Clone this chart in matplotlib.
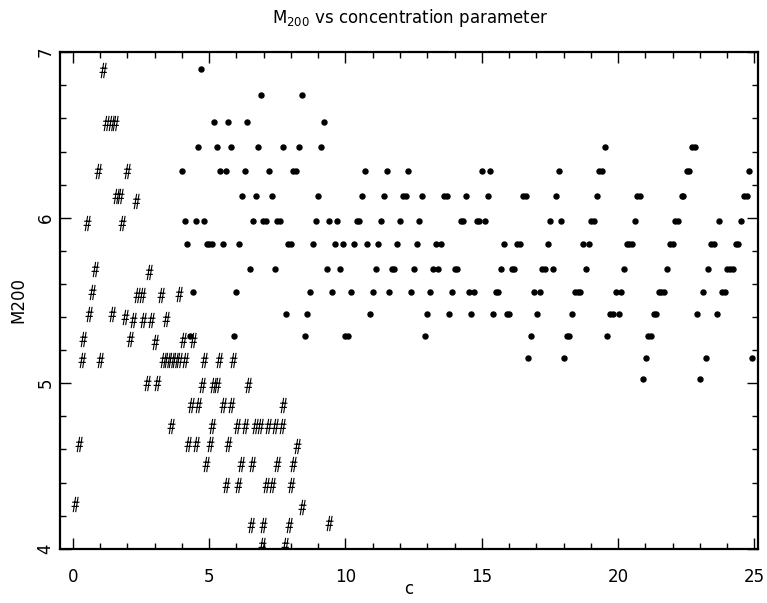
import matplotlib
matplotlib.use("Agg")
import matplotlib.pyplot as plt
from matplotlib.path import Path
from matplotlib.ticker import MultipleLocator

# ---- data: dots (one list of c-values per M200 level) ----
dot_levels = [6.90, 6.74, 6.58, 6.43, 6.28, 6.13, 5.98, 5.84, 5.69, 5.55, 5.42, 5.285, 5.155, 5.024]
dot_c = [
    [4.70],
    [6.90, 8.42],
    [5.19, 5.71, 6.40, 9.20],
    [4.59, 5.30, 5.80, 6.81, 7.71, 8.31, 9.10, 19.52, 22.72, 22.81],
    [4.01, 5.40, 5.61, 6.31, 7.20, 8.09, 8.19, 10.72, 11.51, 12.31, 15.01, 15.31, 17.82, 19.30, 19.39,
     22.51, 22.60, 24.81],
    [6.21, 6.71, 7.31, 9.01, 10.60, 11.41, 12.12, 12.21, 12.81, 13.61, 13.71, 14.41, 15.22, 16.52, 16.61,
     17.71, 19.21, 20.70, 20.80, 22.33, 22.39, 24.63, 24.71],
    [4.11, 4.51, 4.80, 6.60, 6.99, 7.09, 7.49, 7.59, 8.91, 9.41, 9.70, 10.41, 10.50, 11.30, 12.00, 12.71,
     14.23, 14.31, 14.81, 14.91, 15.12, 17.51, 17.92, 19.00, 19.11, 20.60, 22.10, 22.19, 23.71, 24.50],
    [4.20, 4.91, 4.99, 5.10, 5.51, 6.11, 7.91, 7.99, 8.80, 9.61, 9.90, 10.30, 10.80, 11.21, 11.90, 12.61,
     13.31, 13.51, 15.80, 16.30, 16.40, 17.41, 18.71, 18.92, 20.31, 20.41, 20.51, 21.91, 22.01, 23.40,
     23.50, 24.31, 24.41],
    [6.50, 7.41, 9.31, 9.80, 11.11, 11.70, 11.79, 12.52, 13.21, 13.41, 14.01, 14.10, 15.70, 16.10, 16.19,
     17.22, 17.30, 17.61, 18.81, 20.21, 21.80, 23.31, 24.00, 24.10, 24.20],
    [4.40, 6.00, 8.70, 9.51, 10.20, 11.01, 11.61, 12.42, 13.11, 13.91, 14.52, 14.71, 15.51, 15.61, 16.91,
     17.12, 18.42, 18.51, 18.61, 19.92, 20.12, 21.50, 21.59, 21.69, 23.11, 23.82, 23.91],
    [7.81, 8.60, 10.90, 13.00, 13.81, 14.60, 15.41, 15.91, 16.00, 17.01, 18.31, 19.70, 19.80, 20.02,
     21.30, 21.40, 22.90, 23.61],
    [4.31, 5.91, 8.50, 10.00, 10.09, 12.91, 16.80, 18.11, 18.21, 19.60, 21.11, 21.20],
    [16.71, 18.00, 21.01, 23.21, 24.91],
    [20.91, 23.01],
]

# ---- data: hash symbols ----
hash_c = [1.10, 1.22, 1.39, 1.55, 0.92, 2.00, 1.57, 1.74, 2.32, 0.51, 1.81, 0.81, 2.81,
          0.72, 2.36, 2.52, 3.22, 3.91,
          0.61, 1.43, 1.92, 2.20, 2.58, 2.88, 3.42,
          0.39, 2.10, 3.02, 4.03, 4.40,
          0.33, 1.00, 3.29, 3.44, 3.60, 3.75, 3.90, 4.10, 4.81, 5.37, 5.89,
          2.71, 3.10, 4.73, 5.13, 5.28, 6.42,
          4.33, 4.58, 5.52, 5.79, 7.72,
          3.60, 5.10, 6.01, 6.33, 6.69, 6.87, 7.17, 7.42, 7.66,
          0.21, 4.24, 4.52, 5.03, 5.71, 8.24,
          4.90, 6.17, 6.56, 7.48, 8.09,
          5.62, 6.07, 7.08, 7.31, 7.99,
          0.08, 8.42,
          6.52, 6.99, 7.93, 9.40,
          6.93, 7.79]
hash_m = [6.89, 6.57, 6.57, 6.57, 6.28, 6.28, 6.13, 6.13, 6.10, 5.97, 5.97, 5.69, 5.67,
          5.55, 5.535, 5.535, 5.535, 5.54,
          5.42, 5.42, 5.40, 5.38, 5.38, 5.38, 5.39,
          5.27, 5.27, 5.25, 5.26, 5.26,
          5.14, 5.14, 5.14, 5.14, 5.14, 5.14, 5.14, 5.14, 5.14, 5.14, 5.14,
          5.00, 5.00, 4.99, 4.99, 4.99, 4.99,
          4.87, 4.87, 4.87, 4.87, 4.87,
          4.74, 4.74, 4.74, 4.74, 4.74, 4.74, 4.74, 4.74, 4.74,
          4.63, 4.63, 4.63, 4.63, 4.63, 4.62,
          4.51, 4.51, 4.51, 4.51, 4.51,
          4.385, 4.385, 4.385, 4.385, 4.385,
          4.27, 4.25,
          4.145, 4.145, 4.145, 4.155,
          4.02, 4.02]

xs, ys = [], []
for lev, cs in zip(dot_levels, dot_c):
    xs.extend(cs)
    ys.extend([lev] * len(cs))

# slanted hash marker
hv = [(-0.30, -1.0), (0.02, 1.0),
      (0.02, -1.0), (0.34, 1.0),
      (-0.52, -0.25), (0.44, -0.25),
      (-0.44, 0.30), (0.52, 0.30)]
hc = [Path.MOVETO, Path.LINETO] * 4
hash_marker = Path(hv, hc)

fig = plt.figure(figsize=(7.67, 6.03), dpi=100)
ax = fig.add_axes([0.0782, 0.0900, 0.9101, 0.8234])

ax.plot(xs, ys, linestyle='none', marker='o', ms=3.6, color='black', mec='black')
ax.plot(hash_c, hash_m, linestyle='none', marker=hash_marker, ms=11, mfc='none',
        mec='black', mew=0.8)

ax.set_xlim(-0.47, 25.13)
ax.set_ylim(4, 7)
ax.xaxis.set_major_locator(MultipleLocator(5))
ax.xaxis.set_minor_locator(MultipleLocator(1))
ax.yaxis.set_major_locator(MultipleLocator(1))
ax.yaxis.set_minor_locator(MultipleLocator(0.2))
ax.tick_params(which='both', direction='in', top=True, right=True, color='black', width=1.0)
ax.tick_params(which='major', length=8)
ax.tick_params(which='minor', length=4)
ax.tick_params(axis='x', labelsize=12, pad=14)
ax.tick_params(axis='y', labelsize=12, pad=4, labelrotation=90)
for lab in ax.get_yticklabels():
    lab.set_va('center')
for s in ax.spines.values():
    s.set_linewidth(1.6)

ax.set_xlabel('c', fontsize=12)
ax.set_ylabel('M200', fontsize=12)
ax.xaxis.set_label_coords(0.5, -0.062)
ax.yaxis.set_label_coords(-0.047, 0.5)
fig.text(0.535, 0.97, r'M$_{200}$ vs concentration parameter', ha='center', va='center', fontsize=12)

fig.savefig('out.png', dpi=100)
